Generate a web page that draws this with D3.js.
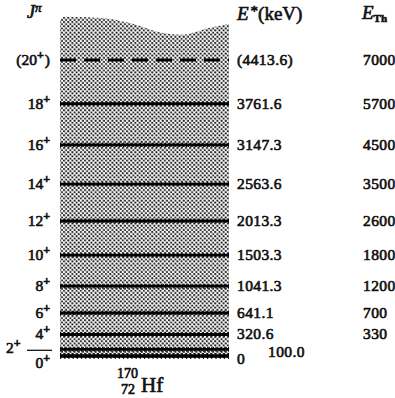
<!DOCTYPE html>
<html>
<head>
<meta charset="utf-8">
<script src="https://cdn.jsdelivr.net/npm/d3@7"></script>
<style>
  body { margin: 0; background: #fff; }
  svg text { font-family: "Liberation Serif", "Times New Roman", serif; fill: #111; stroke: #111; stroke-width: 0.65px; }
</style>
</head>
<body>
<svg id="chart" width="395" height="398"></svg>
<script>
// level scheme of 170Hf ground band
const spins = [0, 2, 4, 6, 8, 10, 12, 14, 16, 18, 20];
const energies = [0, 100.0, 320.6, 641.1, 1041.3, 1503.3, 2013.3, 2563.6, 3147.3, 3761.6, 4413.6];
const energyLabels = ["0", "100.0", "320.6", "641.1", "1041.3", "1503.3", "2013.3", "2563.6", "3147.3", "3761.6", "(4413.6)"];
const thEnergies = [null, null, 330, 700, 1200, 1800, 2600, 3500, 4500, 5700, 7000];
const tentative = [false, false, false, false, false, false, false, false, false, false, true];
// wavy upper edge of the shaded band (fraction of band width, keV)
const edgeFrac = [0, 0.02, 0.25, 0.42, 0.6, 0.72, 0.88, 1];
const edgeE = [4990, 5060, 5040, 4960, 4820, 4790, 4890, 4950];

let svg = d3.select("#chart");

let y = d3.scaleLinear().domain([0, 4413.6]).range([356, 60]);
let x = d3.scaleLinear().domain([0, 1]).range([60, 229]);

// stipple pattern
let defs = svg.append("defs");
let pat = defs.append("pattern")
    .attr("id", "dots")
    .attr("patternUnits", "userSpaceOnUse")
    .attr("width", 4.2).attr("height", 4.2);
pat.append("circle").attr("cx", 1.05).attr("cy", 1.05).attr("r", 1.1).attr("fill", "#222");
pat.append("circle").attr("cx", 3.15).attr("cy", 3.15).attr("r", 1.1).attr("fill", "#222");

// band outline: wavy top, flat bottom
let edgePts = edgeFrac.map((f, i) => [x(f), y(edgeE[i])]);
let edgePath = d3.line().curve(d3.curveMonotoneX)(edgePts);
let bottomY = y(-30);
svg.append("path")
    .attr("d", edgePath + "L" + x(1) + "," + bottomY + "L" + x(0) + "," + bottomY + "Z")
    .attr("fill", "url(#dots)");

// level lines
let levels = svg.append("g").selectAll("g")
    .data(energies)
    .enter().append("g");

levels.append("line")
    .attr("x1", x(0)).attr("x2", x(1))
    .attr("y1", d => y(d)).attr("y2", d => y(d))
    .attr("stroke", "#000")
    .attr("stroke-width", (d, i) => i == 0 ? 3.4 : 2.8)
    .attr("stroke-dasharray", (d, i) => tentative[i] ? "16 8" : null);

// small cross ticks that give the lines their beaded look
levels.filter((d, i) => !tentative[i]).append("line")
    .attr("x1", x(0)).attr("x2", x(1))
    .attr("y1", d => y(d)).attr("y2", d => y(d))
    .attr("stroke", "#000")
    .attr("stroke-width", (d, i) => i == 0 ? 6 : 5)
    .attr("stroke-dasharray", "1.2 3")
    .attr("opacity", 0.85);

// spin labels on the left
function spinText(sel, s, i) {
  let open = tentative[i] ? "(" : "";
  sel.append("tspan").text(open + s);
  sel.append("tspan").text("+").attr("dy", -6).attr("font-size", 12).attr("font-weight", "bold");
  if (tentative[i]) sel.append("tspan").text(")").attr("dy", 6).attr("dx", 1);
}

spins.forEach((s, i) => {
  if (s == 0 || s == 2) return;
  let t = svg.append("text")
      .attr("x", 50).attr("y", y(energies[i]) + 5)
      .attr("text-anchor", "end")
      .attr("font-size", 15.5);
  spinText(t, s, i);
});

// 2+ with leader, 0+ below
let t2 = svg.append("text").attr("x", 6).attr("y", y(energies[1]) + 4)
    .attr("font-size", 15.5);
spinText(t2, spins[1], 1);
svg.append("line")
    .attr("x1", 27).attr("x2", 52)
    .attr("y1", y(energies[1]) + 1).attr("y2", y(energies[1]) + 1)
    .attr("stroke", "#000").attr("stroke-width", 1.2);
let t0 = svg.append("text").attr("x", 50).attr("y", y(energies[0]) + 12)
    .attr("text-anchor", "end")
    .attr("font-size", 15.5);
spinText(t0, spins[0], 0);

// experimental energies
energies.forEach((e, i) => {
  let xx = 237, yy = y(e) + 5;
  if (i == 0) yy = y(e) + 8;
  if (i == 1) { xx = 268; yy = y(e) + 8; }
  svg.append("text")
      .attr("x", xx).attr("y", yy)
      .attr("font-size", 15.5)
      .attr("letter-spacing", 0.4)
      .text(energyLabels[i]);
});

// theoretical energies
thEnergies.forEach((e, i) => {
  if (e == null) return;
  svg.append("text")
      .attr("x", 363).attr("y", y(energies[i]) + 5)
      .attr("font-size", 15.5)
      .attr("letter-spacing", 0.4)
      .text(e);
});

// column headers
let hJ = svg.append("text").attr("x", 27).attr("y", 18).attr("font-size", 18);
hJ.append("tspan").text("J").attr("font-style", "italic");
hJ.append("tspan").text("π").attr("font-size", 13).attr("dy", -6).attr("font-style", "italic");

let hE = svg.append("text").attr("x", 237).attr("y", 20).attr("font-size", 19);
hE.append("tspan").text("E").attr("font-style", "italic");
hE.append("tspan").text("*").attr("font-size", 15).attr("dy", -4).attr("dx", 2);
hE.append("tspan").text("(keV)").attr("dy", 4);

let hT = svg.append("text").attr("x", 362).attr("y", 19).attr("font-size", 19);
hT.append("tspan").text("E").attr("font-style", "italic");
hT.append("tspan").text("Th").attr("font-size", 11).attr("font-weight", "bold").attr("dy", 3);

// nucleus label
svg.append("text").attr("x", 117).attr("y", 378).attr("font-size", 14).text("170");
svg.append("text").attr("x", 121).attr("y", 394).attr("font-size", 14).text("72");
svg.append("text").attr("x", 141).attr("y", 392).attr("font-size", 21).text("Hf");
</script>
</body>
</html>
